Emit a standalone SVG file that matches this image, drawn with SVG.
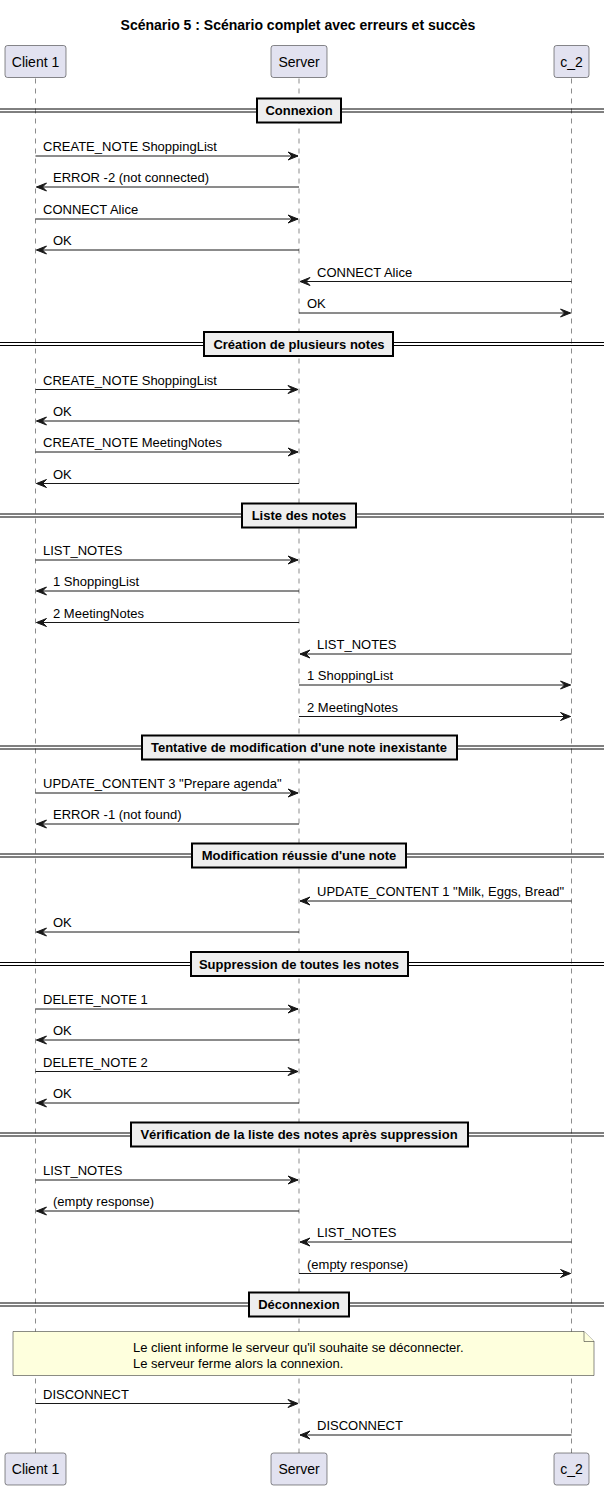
<svg xmlns="http://www.w3.org/2000/svg" width="604" height="1490" viewBox="0 0 604 1490">
<style>
text{font-family:"Liberation Sans",Arial,sans-serif;fill:#000}
.title{font-size:14px;font-weight:bold}
.p{font-size:14px}
.m{font-size:13px}
.dt{font-size:13px;font-weight:bold;text-anchor:middle}
.pbox{fill:#E2E2F0;stroke:#181818;stroke-width:0.5}
.life{stroke:#181818;stroke-width:0.5;stroke-dasharray:5,5;fill:none}
.msg{stroke:#181818;stroke-width:1;fill:none}
.dl{stroke:#000;stroke-width:1}
.dbox{fill:#EEEEEE;stroke:#000;stroke-width:2}
.note{fill:#FEFFDD;stroke:#181818;stroke-width:0.5}
</style>
<defs>
<marker id="ar" markerWidth="14" markerHeight="12" refX="11" refY="5" orient="auto" markerUnits="userSpaceOnUse" viewBox="0 0 14 12">
<polygon points="1,1 11,5 1,9 5,5" fill="#181818" stroke="#181818" stroke-width="1" stroke-linejoin="miter"/>
</marker>
</defs>
<rect width="604" height="1490" fill="#fff"/>
<text class="title" x="298" y="30" text-anchor="middle">Scénario 5 : Scénario complet avec erreurs et succès</text>

<g id="lifelines">
<line class="life" x1="35.5" y1="78.5" x2="35.5" y2="1453"/>
<line class="life" x1="299" y1="78.5" x2="299" y2="1453"/>
<line class="life" x1="571.5" y1="78.5" x2="571.5" y2="1453"/>
</g>

<g id="dividers">
<g id="div-connexion"><line class="dl" x1="0" y1="109" x2="604" y2="109"/><line class="dl" x1="0" y1="112" x2="604" y2="112"/><rect class="dbox" x="257" y="98.5" width="84" height="24"/><text class="dt" x="299" y="115">Connexion</text></g>
<g id="div-creation"><line class="dl" x1="0" y1="342.5" x2="604" y2="342.5"/><line class="dl" x1="0" y1="345.5" x2="604" y2="345.5"/><rect class="dbox" x="204" y="332" width="189" height="24"/><text class="dt" x="299" y="348.5">Création de plusieurs notes</text></g>
<g id="div-liste"><line class="dl" x1="0" y1="514" x2="604" y2="514"/><line class="dl" x1="0" y1="517" x2="604" y2="517"/><rect class="dbox" x="242" y="503.5" width="114" height="24"/><text class="dt" x="299" y="520">Liste des notes</text></g>
<g id="div-tentative"><line class="dl" x1="0" y1="746" x2="604" y2="746"/><line class="dl" x1="0" y1="749" x2="604" y2="749"/><rect class="dbox" x="142" y="735.5" width="315" height="24"/><text class="dt" x="299" y="752">Tentative de modification d'une note inexistante</text></g>
<g id="div-modification"><line class="dl" x1="0" y1="854" x2="604" y2="854"/><line class="dl" x1="0" y1="857" x2="604" y2="857"/><rect class="dbox" x="192" y="843.5" width="214" height="24"/><text class="dt" x="299" y="860">Modification réussie d'une note</text></g>
<g id="div-suppression"><line class="dl" x1="0" y1="962.5" x2="604" y2="962.5"/><line class="dl" x1="0" y1="965.5" x2="604" y2="965.5"/><rect class="dbox" x="191" y="952" width="217" height="24"/><text class="dt" x="299" y="968.5">Suppression de toutes les notes</text></g>
<g id="div-verification"><line class="dl" x1="0" y1="1133" x2="604" y2="1133"/><line class="dl" x1="0" y1="1136" x2="604" y2="1136"/><rect class="dbox" x="131" y="1122.5" width="337" height="24"/><text class="dt" x="299" y="1139">Vérification de la liste des notes après suppression</text></g>
<g id="div-deconnexion"><line class="dl" x1="0" y1="1303" x2="604" y2="1303"/><line class="dl" x1="0" y1="1306" x2="604" y2="1306"/><rect class="dbox" x="249" y="1292.5" width="100" height="24"/><text class="dt" x="299" y="1309">Déconnexion</text></g>
</g>

<g id="connectors">
<line class="msg" x1="35.5" y1="156" x2="298" y2="156" marker-end="url(#ar)"/><text class="m" x="43" y="151">CREATE_NOTE ShoppingList</text>
<line class="msg" x1="299" y1="187" x2="36.5" y2="187" marker-end="url(#ar)"/><text class="m" x="53" y="182">ERROR -2 (not connected)</text>
<line class="msg" x1="35.5" y1="219" x2="298" y2="219" marker-end="url(#ar)"/><text class="m" x="43" y="214">CONNECT Alice</text>
<line class="msg" x1="299" y1="250" x2="36.5" y2="250" marker-end="url(#ar)"/><text class="m" x="53" y="245">OK</text>
<line class="msg" x1="571.5" y1="281.5" x2="300" y2="281.5" marker-end="url(#ar)"/><text class="m" x="317" y="276.5">CONNECT Alice</text>
<line class="msg" x1="299" y1="313" x2="570.5" y2="313" marker-end="url(#ar)"/><text class="m" x="307" y="308">OK</text>
<line class="msg" x1="35.5" y1="389.5" x2="298" y2="389.5" marker-end="url(#ar)"/><text class="m" x="43" y="384.5">CREATE_NOTE ShoppingList</text>
<line class="msg" x1="299" y1="421" x2="36.5" y2="421" marker-end="url(#ar)"/><text class="m" x="53" y="416">OK</text>
<line class="msg" x1="35.5" y1="452" x2="298" y2="452" marker-end="url(#ar)"/><text class="m" x="43" y="447">CREATE_NOTE MeetingNotes</text>
<line class="msg" x1="299" y1="483.5" x2="36.5" y2="483.5" marker-end="url(#ar)"/><text class="m" x="53" y="478.5">OK</text>
<line class="msg" x1="35.5" y1="560" x2="298" y2="560" marker-end="url(#ar)"/><text class="m" x="43" y="555">LIST_NOTES</text>
<line class="msg" x1="299" y1="591" x2="36.5" y2="591" marker-end="url(#ar)"/><text class="m" x="53" y="586">1 ShoppingList</text>
<line class="msg" x1="299" y1="622.5" x2="36.5" y2="622.5" marker-end="url(#ar)"/><text class="m" x="53" y="617.5">2 MeetingNotes</text>
<line class="msg" x1="571.5" y1="654" x2="300" y2="654" marker-end="url(#ar)"/><text class="m" x="317" y="649">LIST_NOTES</text>
<line class="msg" x1="299" y1="685" x2="570.5" y2="685" marker-end="url(#ar)"/><text class="m" x="307" y="680">1 ShoppingList</text>
<line class="msg" x1="299" y1="716.5" x2="570.5" y2="716.5" marker-end="url(#ar)"/><text class="m" x="307" y="711.5">2 MeetingNotes</text>
<line class="msg" x1="35.5" y1="793" x2="298" y2="793" marker-end="url(#ar)"/><text class="m" x="43" y="788">UPDATE_CONTENT 3 "Prepare agenda"</text>
<line class="msg" x1="299" y1="824" x2="36.5" y2="824" marker-end="url(#ar)"/><text class="m" x="53" y="819">ERROR -1 (not found)</text>
<line class="msg" x1="571.5" y1="901" x2="300" y2="901" marker-end="url(#ar)"/><text class="m" x="317" y="896">UPDATE_CONTENT 1 "Milk, Eggs, Bread"</text>
<line class="msg" x1="299" y1="932" x2="36.5" y2="932" marker-end="url(#ar)"/><text class="m" x="53" y="927">OK</text>
<line class="msg" x1="35.5" y1="1009" x2="298" y2="1009" marker-end="url(#ar)"/><text class="m" x="43" y="1004">DELETE_NOTE 1</text>
<line class="msg" x1="299" y1="1040" x2="36.5" y2="1040" marker-end="url(#ar)"/><text class="m" x="53" y="1035">OK</text>
<line class="msg" x1="35.5" y1="1071.5" x2="298" y2="1071.5" marker-end="url(#ar)"/><text class="m" x="43" y="1066.5">DELETE_NOTE 2</text>
<line class="msg" x1="299" y1="1103" x2="36.5" y2="1103" marker-end="url(#ar)"/><text class="m" x="53" y="1098">OK</text>
<line class="msg" x1="35.5" y1="1180" x2="298" y2="1180" marker-end="url(#ar)"/><text class="m" x="43" y="1175">LIST_NOTES</text>
<line class="msg" x1="299" y1="1211" x2="36.5" y2="1211" marker-end="url(#ar)"/><text class="m" x="53" y="1206">(empty response)</text>
<line class="msg" x1="571.5" y1="1242" x2="300" y2="1242" marker-end="url(#ar)"/><text class="m" x="317" y="1237">LIST_NOTES</text>
<line class="msg" x1="299" y1="1273.5" x2="570.5" y2="1273.5" marker-end="url(#ar)"/><text class="m" x="307" y="1268.5">(empty response)</text>
<line class="msg" x1="35.5" y1="1403.5" x2="298" y2="1403.5" marker-end="url(#ar)"/><text class="m" x="43" y="1398.5">DISCONNECT</text>
<line class="msg" x1="571.5" y1="1435" x2="300" y2="1435" marker-end="url(#ar)"/><text class="m" x="317" y="1430">DISCONNECT</text>
</g>

<g id="note">
<path class="note" d="M13,1331.5 H584 L594,1341.5 V1375.5 H13 Z"/>
<path class="note" d="M584,1331.5 V1341.5 H594" fill="none"/>
<text class="m" x="133" y="1351.5">Le client informe le serveur qu'il souhaite se déconnecter.</text>
<text class="m" x="133" y="1367.5">Le serveur ferme alors la connexion.</text>
</g>

<g id="client1">
<rect class="pbox" x="5" y="45.5" width="61" height="32" rx="2.5"/><text class="p" x="35.5" y="66.5" text-anchor="middle">Client 1</text>
<rect class="pbox" x="5" y="1453" width="61" height="32" rx="2.5"/><text class="p" x="35.5" y="1474" text-anchor="middle">Client 1</text>
</g>
<g id="server">
<rect class="pbox" x="271" y="45.5" width="56" height="32" rx="2.5"/><text class="p" x="299" y="66.5" text-anchor="middle">Server</text>
<rect class="pbox" x="271" y="1453" width="56" height="32" rx="2.5"/><text class="p" x="299" y="1474" text-anchor="middle">Server</text>
</g>
<g id="c_2">
<rect class="pbox" x="554" y="45.5" width="35" height="32" rx="2.5"/><text class="p" x="571.5" y="66.5" text-anchor="middle">c_2</text>
<rect class="pbox" x="554" y="1453" width="35" height="32" rx="2.5"/><text class="p" x="571.5" y="1474" text-anchor="middle">c_2</text>
</g>
</svg>
